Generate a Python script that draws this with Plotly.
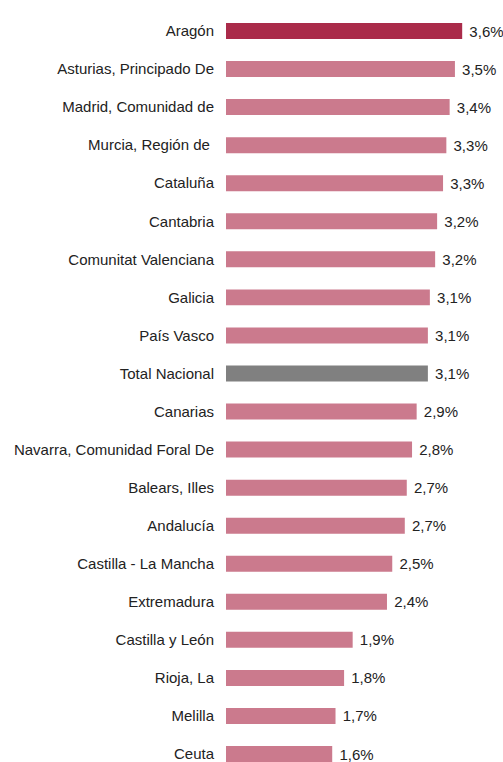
import plotly.graph_objects as go

regions = ["Aragón", "Asturias, Principado De", "Madrid, Comunidad de", "Murcia, Región de ",
           "Cataluña", "Cantabria", "Comunitat Valenciana", "Galicia", "País Vasco",
           "Total Nacional", "Canarias", "Navarra, Comunidad Foral De", "Balears, Illes",
           "Andalucía", "Castilla - La Mancha", "Extremadura", "Castilla y León",
           "Rioja, La", "Melilla", "Ceuta"]
values = [3.58, 3.47, 3.39, 3.34, 3.29, 3.20, 3.17, 3.09, 3.06, 3.06, 2.89, 2.82, 2.74,
          2.71, 2.52, 2.44, 1.92, 1.79, 1.66, 1.61]

HIGHLIGHT = "#AA2B4A"
BASE = "#CB7A8D"
TOTAL = "#808080"
colors = [HIGHLIGHT if r == "Aragón" else TOTAL if r == "Total Nacional" else BASE for r in regions]

fig = go.Figure(go.Bar(
    x=values, y=regions, orientation="h",
    marker=dict(color=colors, line=dict(width=0)),
    width=0.42,
    texttemplate=" %{x:.1f}%", textposition="outside",
    textfont=dict(family="Liberation Sans, Arial, sans-serif", size=15, color="#222222"),
    cliponaxis=False, constraintext="none",
    hoverinfo="skip",
))

fig.update_layout(
    width=503, height=762,
    margin=dict(l=226, r=23, t=12, b=0),
    paper_bgcolor="white", plot_bgcolor="white",
    separators=",.",
    showlegend=False,
    font=dict(family="Liberation Sans, Arial, sans-serif", size=15, color="#222222"),
    xaxis=dict(range=[0, 3.85], visible=False, showgrid=False, zeroline=False),
    yaxis=dict(categoryorder="array", categoryarray=regions,
               range=[19.21, -0.4993], showgrid=False, zeroline=False,
               showline=False, ticks="", ticklabelstandoff=11,
               tickfont=dict(size=15, color="#222222")),
)

fig.write_html(
    "out.html",
    config={"displayModeBar": False, "staticPlot": True},
    post_script="document.body.style.margin='0';document.body.style.overflow='hidden';",
)
